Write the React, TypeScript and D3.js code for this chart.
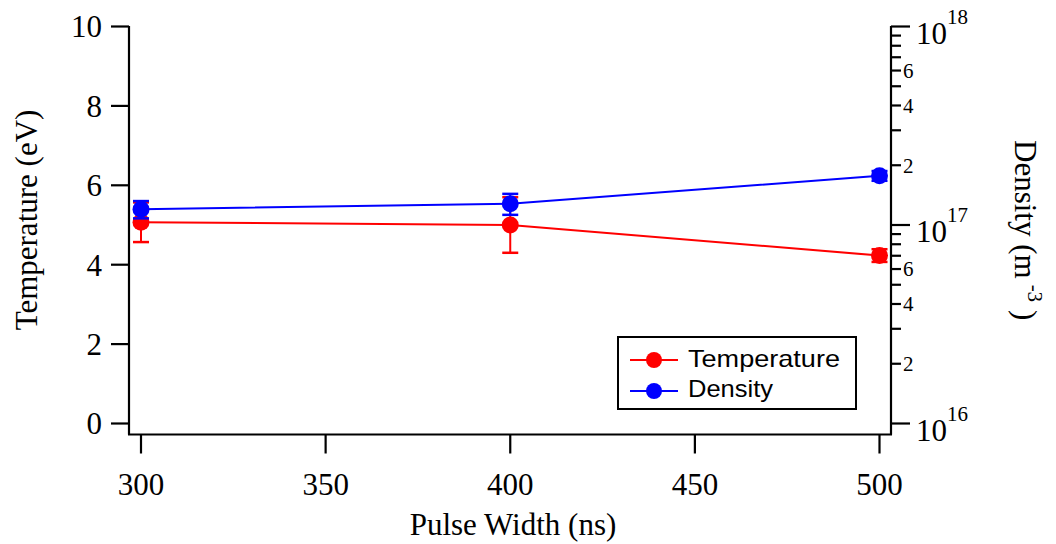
import React from "react";
import * as d3 from "d3";

const pulseWidths = [300, 400, 500];
const temperature = [5.07, 5.0, 4.23];
const temperatureErr = [0.5, 0.7, 0.16];
const density = [1.2e17, 1.28e17, 1.77e17];
const densityErr = [0.12e17, 0.155e17, 0.1e17];

const xTicks = [300, 350, 400, 450, 500];
const yTicks = [0, 2, 4, 6, 8, 10];
const densityMajor = [
  { v: 1e16, exp: "16" },
  { v: 1e17, exp: "17" },
  { v: 1e18, exp: "18" },
];
const minorLabels = ["2", "4", "6"];

const serif = "'Liberation Serif', 'Times New Roman', serif";
const sans = "'Liberation Sans', Arial, sans-serif";

export default function App() {
  const W = 1056, H = 544;
  const left = 129, right = 891, axisBottom = 434.5, axisTop = 26;
  const x = d3.scaleLinear().domain([300, 500]).range([141, 879.5]);
  const yT = d3.scaleLinear().domain([0, 10]).range([423.5, 26.5]);
  const yD = d3.scaleLog().domain([1e16, 1e18]).range([423.5, 26.5]);

  const minorTicks: number[] = [];
  for (const dec of [1e16, 1e17]) {
    for (let k = 2; k <= 9; k++) minorTicks.push(k * dec);
  }

  const tLine = d3.line<number>().x((_, i) => x(pulseWidths[i])).y((d) => yT(d));
  const dLine = d3.line<number>().x((_, i) => x(pulseWidths[i])).y((d) => yD(d));

  const capW = 8;
  const red = "#ff0000", blue = "#0000ff";

  return (
    <svg width={W} height={H} style={{ position: "absolute", left: 0, top: 0, background: "#fff" }}>
      {/* axes */}
      <g stroke="#000" strokeWidth={2.2} fill="none">
        <line x1={left} y1={axisTop} x2={left} y2={axisBottom} />
        <line x1={left - 1} y1={axisBottom} x2={right + 1} y2={axisBottom} />
        <line x1={right} y1={axisTop} x2={right} y2={axisBottom} />
        {yTicks.map((t) => (
          <line key={"yt" + t} x1={left - 18} x2={left} y1={yT(t)} y2={yT(t)} />
        ))}
        {xTicks.map((t) => (
          <line key={"xt" + t} x1={x(t)} x2={x(t)} y1={axisBottom} y2={axisBottom + 19} />
        ))}
        {densityMajor.map((d) => (
          <line key={"dm" + d.exp} x1={right} x2={right + 19} y1={yD(d.v)} y2={yD(d.v)} />
        ))}
        {minorTicks.map((v, i) => (
          <line key={"mn" + i} x1={right} x2={right + 10} y1={yD(v)} y2={yD(v)} />
        ))}
      </g>

      {/* tick labels */}
      <g fontFamily={serif} fontSize={31} fill="#000">
        {yTicks.map((t) => (
          <text key={"ytl" + t} x={102} y={yT(t)} dy="0.35em" textAnchor="end">{t}</text>
        ))}
        {xTicks.map((t) => (
          <text key={"xtl" + t} x={x(t)} y={495} textAnchor="middle">{t}</text>
        ))}
        {densityMajor.map((d) => (
          <text key={"dml" + d.exp} x={916} y={yD(d.v) + 17}>
            10
            <tspan fontSize={21} dy={-20}>{d.exp}</tspan>
          </text>
        ))}
      </g>
      <g fontFamily={serif} fontSize={21} fill="#000">
        {[1e16, 1e17].flatMap((dec) =>
          minorLabels.map((m) => (
            <text key={"ml" + dec + m} x={903} y={yD(+m * dec)} dy="0.35em">{m}</text>
          ))
        )}
      </g>

      {/* axis titles */}
      <g fontFamily={serif} fontSize={31} fill="#000">
        <text transform="translate(37,220) rotate(-90)" textAnchor="middle">Temperature (eV)</text>
        <text x={513} y={535} textAnchor="middle">Pulse Width (ns)</text>
        <text transform="translate(1015,140) rotate(90)">
          Density (m
          <tspan fontSize={21} dx={6} dy={-13}>-3</tspan>
          <tspan dy={13}> )</tspan>
        </text>
      </g>

      {/* temperature series */}
      <g stroke={red} strokeWidth={2} fill="none">
        <path d={tLine(temperature) || ""} />
        {temperature.map((v, i) => {
          const cx = x(pulseWidths[i]);
          const y1 = yT(v + temperatureErr[i]);
          const y2 = yT(v - temperatureErr[i]);
          return (
            <g key={"te" + i}>
              <line x1={cx} x2={cx} y1={y1} y2={y2} />
              <line x1={cx - capW} x2={cx + capW} y1={y1} y2={y1} strokeWidth={2.5} />
              <line x1={cx - capW} x2={cx + capW} y1={y2} y2={y2} strokeWidth={2.5} />
            </g>
          );
        })}
      </g>
      {temperature.map((v, i) => (
        <circle key={"tc" + i} cx={x(pulseWidths[i])} cy={yT(v)} r={8.5} fill={red} />
      ))}

      {/* density series */}
      <g stroke={blue} strokeWidth={2} fill="none">
        <path d={dLine(density) || ""} />
        {density.map((v, i) => {
          const cx = x(pulseWidths[i]);
          const y1 = yD(v + densityErr[i]);
          const y2 = yD(v - densityErr[i]);
          return (
            <g key={"de" + i}>
              <line x1={cx} x2={cx} y1={y1} y2={y2} />
              <line x1={cx - capW} x2={cx + capW} y1={y1} y2={y1} strokeWidth={2.5} />
              <line x1={cx - capW} x2={cx + capW} y1={y2} y2={y2} strokeWidth={2.5} />
            </g>
          );
        })}
      </g>
      {density.map((v, i) => (
        <circle key={"dc" + i} cx={x(pulseWidths[i])} cy={yD(v)} r={8.5} fill={blue} />
      ))}

      {/* legend */}
      <g>
        <rect x={618} y={337} width={238} height={72} fill="#fff" stroke="#000" strokeWidth={2} />
        <line x1={630} x2={678} y1={360} y2={360} stroke={red} strokeWidth={2} />
        <circle cx={654} cy={360} r={8} fill={red} />
        <line x1={630} x2={678} y1={391} y2={391} stroke={blue} strokeWidth={2} />
        <circle cx={654} cy={391} r={8} fill={blue} />
        <text x={688} y={367} fontFamily={sans} fontSize={24} textLength={152} lengthAdjust="spacingAndGlyphs">Temperature</text>
        <text x={688} y={397} fontFamily={sans} fontSize={24} textLength={85} lengthAdjust="spacingAndGlyphs">Density</text>
      </g>
    </svg>
  );
}
